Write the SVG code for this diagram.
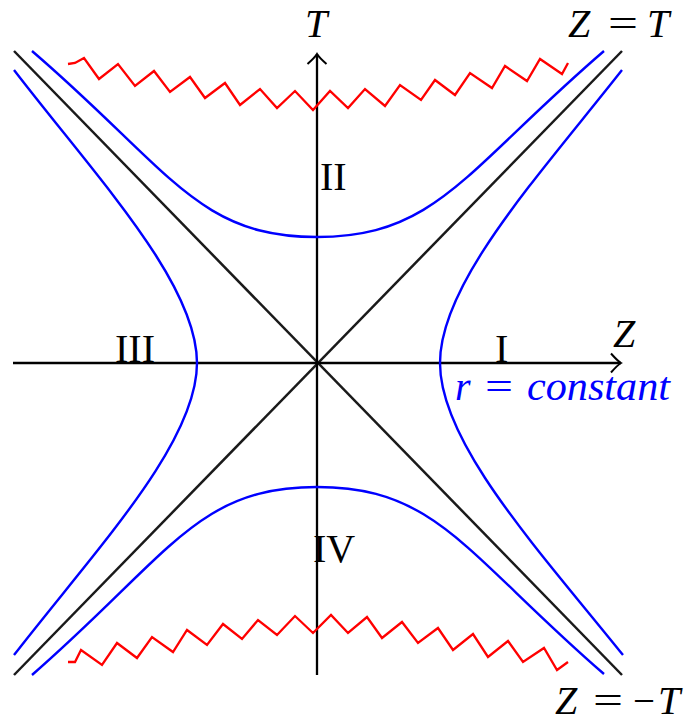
<svg xmlns="http://www.w3.org/2000/svg" width="695" height="723" viewBox="0 0 695 723">
<style>
.ax{stroke:#000;stroke-width:2.3;fill:none}
.hz{stroke:#1a1a1a;stroke-width:2.5;fill:none}
.bl{stroke:#0000ff;stroke-width:2.4;fill:none}
.rd{stroke:#ff0000;stroke-width:2.3;fill:none;stroke-linejoin:miter}
.lb{font-family:"Liberation Serif","DejaVu Serif",serif;font-size:40px;fill:#000}
.it{font-style:italic}
</style>
<defs>
<marker id="arr" markerUnits="userSpaceOnUse" markerWidth="24" markerHeight="24" refX="0" refY="0" viewBox="-12 -12 24 24" orient="auto" overflow="visible">
<path d="M-10,-9.5 C-6,-5 -2.5,-1.5 0,0 C-2.5,1.5 -6,5 -10,9.5" stroke="#000" stroke-width="2" fill="none"/>
</marker>
</defs>
<g id="horizons">
<line class="hz" x1="14" y1="51" x2="622" y2="675"/>
<line class="hz" x1="14" y1="675" x2="622" y2="51"/>
</g>
<g id="axes">
<line class="ax" x1="13" y1="363" x2="621" y2="363" marker-end="url(#arr)"/>
<line class="ax" x1="317" y1="675" x2="317" y2="54" marker-end="url(#arr)"/>
</g>
<g id="r-constant-curves">
<path class="bl" d="M32,51 C170,169.5 197,237 317,237 C437,237 466,169.5 604,51"/>
<path class="bl" d="M32,675 C170,554.5 197,487 317,487 C437,487 466,554.5 604,674"/>
<path class="bl" d="M622,70 C537,178 440,283 440,363 C440,443 537,548 623,655"/>
<path class="bl" d="M14,70 C97,178 197,283 197,363 C197,443 97,548 14,655"/>
</g>
<g id="singularities">
<polyline class="rd" points="68,64 75,63 84,58 99,79 118,64 135,86 154,71 170,92 190,77 205,98 225,83 240,105 260,89 277,108 295,91 313,110 330,91 348,108 365,89 385,106 400,85 421,100 435,80 455,95 470,73 492,88 505,66 527,81 540,59 562,74 568,63"/>
<polyline class="rd" points="68,662 75,662 81,650 102,665 117,643 137,658 152,637 173,652 187,630 207,645 223,624 242,639 258,620 277,635 295,616 313,633 331,615 348,633 367,617 382,638 402,622 418,643 438,628 453,650 473,634 488,657 508,641 523,662 544,648 557,670 568,662"/>
</g>
<g id="labels">
<text class="lb it" x="305" y="37">T</text>
<text class="lb it" x="613" y="347">Z</text>
<text class="lb it" x="568" y="37">Z</text>
<text class="lb" x="623" y="37" text-anchor="middle" textLength="30" lengthAdjust="spacingAndGlyphs">=</text>
<text class="lb it" x="647" y="37">T</text>
<text class="lb it" x="555" y="714">Z</text>
<text class="lb" x="608" y="714" text-anchor="middle" textLength="30" lengthAdjust="spacingAndGlyphs">=</text>
<text class="lb" x="644" y="714" text-anchor="middle" textLength="22" lengthAdjust="spacingAndGlyphs">−</text>
<text class="lb it" x="658" y="714">T</text>
<text class="lb" x="320" y="190">II</text>
<text class="lb" x="495" y="362">I</text>
<text class="lb" x="115" y="362">III</text>
<text class="lb" x="313" y="562">IV</text>
<text class="lb it" x="455" y="400" style="fill:#0000ff">r</text>
<text class="lb" x="499" y="400" text-anchor="middle" textLength="28" lengthAdjust="spacingAndGlyphs" style="fill:#0000ff">=</text>
<text class="lb it" x="527" y="400" textLength="143" lengthAdjust="spacingAndGlyphs" style="fill:#0000ff">constant</text>
</g>
</svg>
